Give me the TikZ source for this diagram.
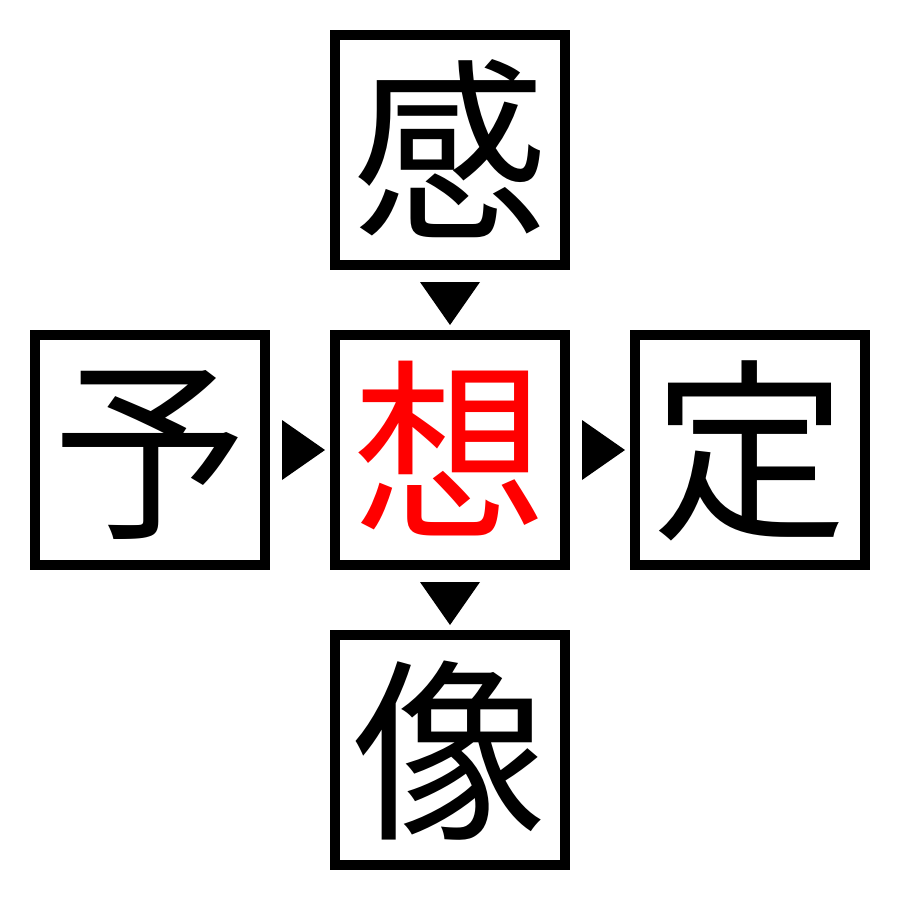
\documentclass[tikz,border=0pt]{standalone}
\usepackage{fontspec}
\newfontfamily\cjk{Noto Sans CJK JP}
\usetikzlibrary{calc}
\begin{document}
\begin{tikzpicture}[x=1pt,y=-1pt,
  kbox/.style={draw=black,line width=10pt,minimum size=230pt,inner sep=0pt,
    font=\cjk\fontsize{195pt}{195pt}\selectfont,
    text height=171.6pt,text depth=23.4pt},
  tri/.style={fill=black}]
\useasboundingbox (0,0) rectangle (900,900);
\node[kbox] (top) at (450,150) {感};
\node[kbox,text=red] (mid) at (450,450) {想};
\node[kbox] (left) at (150,450) {予};
\node[kbox] (right) at (750,450) {定};
\node[kbox] (bot) at (450,750) {像};
\fill[tri] ($(top.south)+(-30,12)$) -- ($(top.south)+(30,12)$) -- ($(top.south)+(0,55)$) -- cycle;
\fill[tri] ($(mid.south)+(-30,12)$) -- ($(mid.south)+(30,12)$) -- ($(mid.south)+(0,55)$) -- cycle;
\fill[tri] ($(left.east)+(12,-30)$) -- ($(left.east)+(12,30)$) -- ($(left.east)+(55,0)$) -- cycle;
\fill[tri] ($(mid.east)+(12,-30)$) -- ($(mid.east)+(12,30)$) -- ($(mid.east)+(55,0)$) -- cycle;
\end{tikzpicture}
\end{document}
